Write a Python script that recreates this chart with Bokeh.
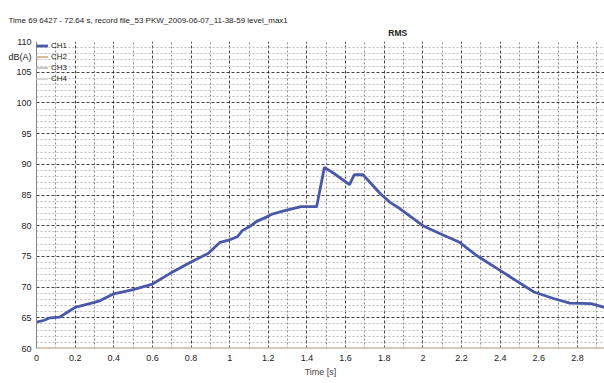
from bokeh.plotting import figure
from bokeh.models import Range1d, FixedTicker, Legend, LegendItem, Title, LinearAxis
from bokeh.embed import file_html
from bokeh.resources import INLINE

# ---- data ----
time_s = [0, 0.04, 0.07, 0.12, 0.16, 0.2, 0.25, 0.3, 0.33, 0.4, 0.5, 0.6, 0.69, 0.8, 0.89,
          0.95, 1.0, 1.04, 1.065, 1.11, 1.14, 1.19, 1.22, 1.29, 1.37, 1.45, 1.49, 1.54, 1.62,
          1.645, 1.69, 1.78, 1.83, 1.88, 2.0, 2.09, 2.19, 2.28, 2.385, 2.48, 2.575, 2.68,
          2.76, 2.87, 2.94]
ch1_db = [64.3, 64.6, 65.0, 65.1, 65.9, 66.7, 67.1, 67.5, 67.8, 68.9, 69.6, 70.5, 72.2, 74.1,
          75.5, 77.3, 77.7, 78.2, 79.2, 80.0, 80.7, 81.4, 81.9, 82.5, 83.1, 83.1, 89.5, 88.5,
          86.7, 88.3, 88.3, 85.2, 83.8, 82.8, 80.0, 78.7, 77.3, 75.1, 73.0, 71.1, 69.2, 68.1,
          67.4, 67.3, 66.7]
flat_time = [0, 2.94]
ch2_db = [60, 60]
ch3_db = [60, 60]
ch4_db = [60, 60]
channel_names = ["CH1", "CH2", "CH3", "CH4"]

x_ticks = [0, 0.2, 0.4, 0.6, 0.8, 1, 1.2, 1.4, 1.6, 1.8, 2, 2.2, 2.4, 2.6, 2.8]
x_tick_labels = ["0", "0.2", "0.4", "0.6", "0.8", "1", "1.2", "1.4", "1.6", "1.8", "2",
                 "2.2", "2.4", "2.6", "2.8"]
x_minor = [0.1, 0.3, 0.5, 0.7, 0.9, 1.1, 1.3, 1.5, 1.7, 1.9, 2.1, 2.3, 2.5, 2.7, 2.9]
y_ticks = [60, 65, 70, 75, 80, 85, 90, 95, 100, 105, 110]
y_minor = [v for v in range(60, 111) if v % 5 != 0]
unit_label = "dB(A)"
unit_label_at = 107.4   # where the unit text sits on the value axis
sub_title = "RMS"
sub_title_at = 1.87     # where the sub-title sits above the plot

title_text = "Time 69 6427 - 72.64 s, record file_53 PKW_2009-06-07_11-38-59 level_max1"
FONT = "Liberation Sans"

p = figure(width=604, height=383, output_backend="svg", toolbar_location=None,
           x_range=Range1d(0, 2.94), y_range=Range1d(60, 110),
           min_border_left=36, min_border_right=0, min_border_top=41, min_border_bottom=35)
p.title = None
p.background_fill_color = "white"
p.border_fill_color = "white"
p.outline_line_color = None

bottom_axis = p.below[0]
left_axis = p.left[0]

# sub-title "RMS" carried by an axis above the plot
top_axis = LinearAxis(ticker=FixedTicker(ticks=[sub_title_at]),
                      major_label_overrides={sub_title_at: sub_title},
                      axis_line_color=None, major_tick_line_color=None,
                      minor_tick_line_color=None, major_tick_out=0, major_tick_in=0,
                      minor_tick_out=0, minor_tick_in=0, major_label_standoff=4,
                      major_label_text_font=FONT, major_label_text_font_size="8.5px",
                      major_label_text_font_style="bold", major_label_text_color="#222")
p.add_layout(top_axis, "above")
p.add_layout(Title(text=title_text, align="left", offset=-28, standoff=0,
                   text_font=FONT, text_font_size="8px", text_font_style="normal",
                   text_color="#222"), "above")

# axes
bottom_axis.ticker = FixedTicker(ticks=x_ticks, minor_ticks=x_minor)
bottom_axis.major_label_overrides = {t: l for t, l in zip(x_ticks, x_tick_labels)}
left_axis.ticker = FixedTicker(ticks=y_ticks + [unit_label_at], minor_ticks=y_minor)
left_axis.major_label_overrides = {unit_label_at: unit_label}
for ax in (bottom_axis, left_axis):
    ax.major_label_text_font = FONT
    ax.major_label_text_font_size = "9px"
    ax.major_label_text_color = "#222"
    ax.minor_tick_line_color = None
    ax.major_tick_line_color = None
    ax.major_tick_out = 0
    ax.major_tick_in = 0
    ax.minor_tick_out = 0
    ax.minor_tick_in = 0
bottom_axis.axis_line_color = None
bottom_axis.major_label_standoff = 6
bottom_axis.axis_label = "Time [s]"
bottom_axis.axis_label_text_font = FONT
bottom_axis.axis_label_text_font_size = "9px"
bottom_axis.axis_label_text_font_style = "normal"
bottom_axis.axis_label_standoff = 3
left_axis.axis_line_color = "#888"
left_axis.major_label_standoff = 5

# grids
p.xgrid.ticker = FixedTicker(ticks=x_ticks, minor_ticks=x_minor)
p.ygrid.ticker = FixedTicker(ticks=y_ticks, minor_ticks=y_minor)
p.xgrid.grid_line_color = "#222"
p.xgrid.grid_line_dash = "3 2"
p.xgrid.grid_line_alpha = 0.85
p.xgrid.minor_grid_line_color = "#8c8c8c"
p.xgrid.minor_grid_line_dash = "2 2"
p.ygrid.grid_line_color = "#222"
p.ygrid.grid_line_dash = "3 2"
p.ygrid.grid_line_alpha = 0.85
p.ygrid.minor_grid_line_color = "#bdbdbd"
p.ygrid.minor_grid_line_dash = "2 2"

# series
r4 = p.line(flat_time, ch4_db, line_color="#d6d6d6", line_width=2)
r3 = p.line(flat_time, ch3_db, line_color="#c8c8c8", line_width=2)
r2 = p.line(flat_time, ch2_db, line_color="#d8bc9c", line_width=2)
r1 = p.line(time_s, ch1_db, line_color="#4a58a8", line_width=2.8)

legend = Legend(items=[LegendItem(label=n, renderers=[r]) for n, r in
                       zip(channel_names, [r1, r2, r3, r4])],
                location="top_left", margin=0, padding=1, spacing=2,
                glyph_width=12, glyph_height=9, label_height=9, label_standoff=3,
                label_text_font=FONT, label_text_font_size="8px", label_text_color="#222",
                background_fill_alpha=0, border_line_color=None)
p.add_layout(legend)

open("out.html", "w").write(file_html(p, INLINE))
